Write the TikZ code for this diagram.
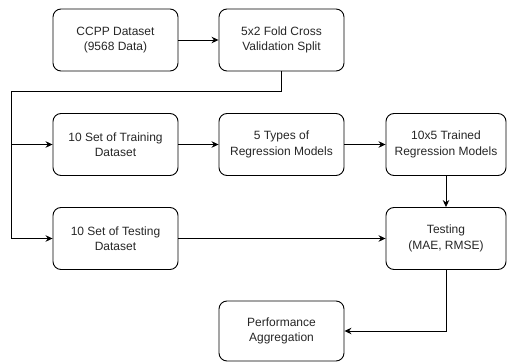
\documentclass[tikz,border=0pt]{standalone}
\usepackage{fontspec}
\setmainfont{Liberation Sans}
\usetikzlibrary{arrows.meta}

\begin{document}
\begin{tikzpicture}[x=1pt, y=-1pt,
    stage/.style ={draw, line width=0.9pt, rounded corners=8pt, align=center,
      minimum width=125pt, minimum height=62pt, inner sep=0pt,
      font=\fontsize{12}{15.5}\selectfont, text=black!85},
    flow/.style ={line width=0.9pt, -{Stealth[length=7pt,width=6.5pt]}}]
   \useasboundingbox (0,0) rectangle (507,362);

   \node[stage] (ccpp) at (115.5,40)  {CCPP Dataset\\(9568 Data)};
   \node[stage] (split) at (281.5,40)  {5x2 Fold Cross\\Validation Split};
   \node[stage] (train) at (115.5,144.5)  {10 Set of Training\\Dataset};
   \node[stage] (types) at (281.5,144.5)  {5 Types of\\Regression Models};
   \node[stage, minimum width=120pt] (trained) at (446,144.5)  {10x5 Trained\\Regression Models};
   \node[stage] (test) at (115.5,238.5)  {10 Set of Testing\\Dataset};
   \node[stage, minimum width=120pt] (testing) at (446,238.5)  {Testing\\(MAE, RMSE)};
   \node[stage, minimum height=60pt] (perf) at (281.5,331)  {Performance\\Aggregation};

   \coordinate (turn) at (11,91);
   \coordinate (branch) at (11,144.5);

   \draw[flow] (ccpp) to  (split);
   \draw[line width=0.9pt] (split.south) |- (turn);
   \draw[flow] (turn) |- (test.west);
   \draw[flow] (branch) to  (train.west);
   \draw[flow] (train) to  (types);
   \draw[flow] (types) to  (trained);
   \draw[flow] (trained) to  (testing);
   \draw[flow] (test) to  (testing);
   \draw[flow] (testing.south) |- (perf.east);
 \end{tikzpicture}
\end{document}
